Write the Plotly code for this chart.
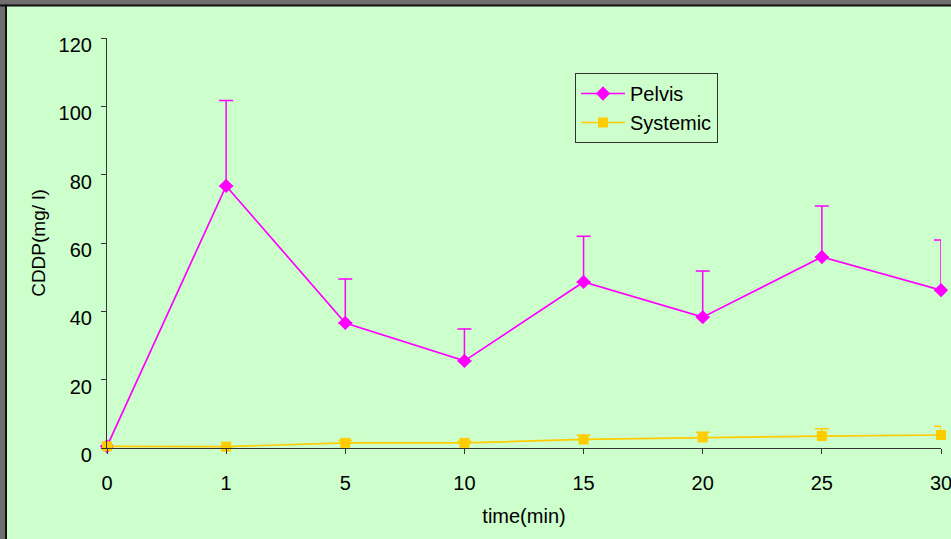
import plotly.graph_objects as go

# Sampling times (min), shown as evenly spaced categories
times = ["0", "1", "5", "10", "15", "20", "25", "30"]

# CDDP concentration (mg/l): mean and upper error
pelvis = [0.5, 76.7, 36.6, 25.5, 48.6, 38.3, 55.9, 46.2]
pelvis_err = [0, 25.0, 12.9, 9.3, 13.4, 13.5, 14.9, 14.7]
systemic = [0.5, 0.4, 1.5, 1.5, 2.5, 3.1, 3.5, 3.8]
systemic_err = [0, 0, 0.8, 0.5, 1.2, 1.5, 2.1, 2.6]

MAGENTA = "#FF00FF"
GOLD = "#FFCC00"
FONT = "Liberation Sans, Arial, sans-serif"

fig = go.Figure()

fig.add_trace(go.Scatter(
    x=times, y=pelvis, name="Pelvis", mode="lines+markers",
    line=dict(color=MAGENTA, width=1.7),
    marker=dict(symbol="diamond", size=11, color=MAGENTA),
    error_y=dict(type="data", array=pelvis_err, arrayminus=[0] * len(pelvis),
                 symmetric=False, color=MAGENTA, thickness=1.5, width=7),
    cliponaxis=False,
))
fig.add_trace(go.Scatter(
    x=times, y=systemic, name="Systemic", mode="lines+markers",
    line=dict(color=GOLD, width=1.7),
    marker=dict(symbol="square", size=10, color=GOLD),
    error_y=dict(type="data", array=systemic_err, arrayminus=[0] * len(systemic),
                 symmetric=False, color=GOLD, thickness=1.5, width=7),
    cliponaxis=False,
))

# Grey window frame along the top and left edges
frame = [
    dict(x0=-0.2, x1=1.2, y0=(448 - 5) / 410, y1=1.2, fill="#6f6f6f"),
    dict(x0=-0.2, x1=(5 - 107) / 834, y0=-0.3, y1=1.2, fill="#6f6f6f"),
    dict(x0=-0.2, x1=1.2, y0=(448 - 6.5) / 410, y1=(448 - 4.5) / 410, fill="#111111"),
    dict(x0=(5 - 107) / 834, x1=(7 - 107) / 834, y0=-0.3, y1=(448 - 4.5) / 410, fill="#111111"),
]
for f in frame:
    fig.add_shape(type="rect", xref="paper", yref="paper",
                  x0=f["x0"], x1=f["x1"], y0=f["y0"], y1=f["y1"],
                  fillcolor=f["fill"], line=dict(width=0), layer="above")

axis_common = dict(
    showline=True, linecolor="#333333", linewidth=1.2,
    ticks="outside", ticklen=5, tickcolor="#333333", tickwidth=1.2,
    showgrid=False, zeroline=False, automargin=False,
    tickfont=dict(family=FONT, size=20, color="black"),
)

fig.update_layout(
    width=951, height=539,
    margin=dict(l=107, r=10, t=38, b=91),
    paper_bgcolor="#CCFFCC", plot_bgcolor="#CCFFCC",
    font=dict(family=FONT, size=20, color="black"),
    showlegend=True,
    legend=dict(
        x=(575 - 107) / 834, y=(448 - 73) / 410, xanchor="left", yanchor="top",
        bgcolor="rgba(0,0,0,0)", bordercolor="#333333", borderwidth=1,
        font=dict(family=FONT, size=20, color="black"),
        tracegroupgap=0, itemwidth=44,
    ),
    xaxis=dict(
        type="category", categoryorder="array", categoryarray=times,
        range=[0, len(times) - 1],
        title=dict(text="time(min)", standoff=15,
                   font=dict(family=FONT, size=20, color="black")),
        ticklabelstandoff=12,
        **axis_common,
    ),
    yaxis=dict(
        range=[0, 120], dtick=20,
        title=dict(text="CDDP(mg/ l)", standoff=7,
                   font=dict(family=FONT, size=19, color="black")),
        ticklabelstandoff=5, ticklabelshift=7,
        **axis_common,
    ),
)

fig.write_html("out.html")
